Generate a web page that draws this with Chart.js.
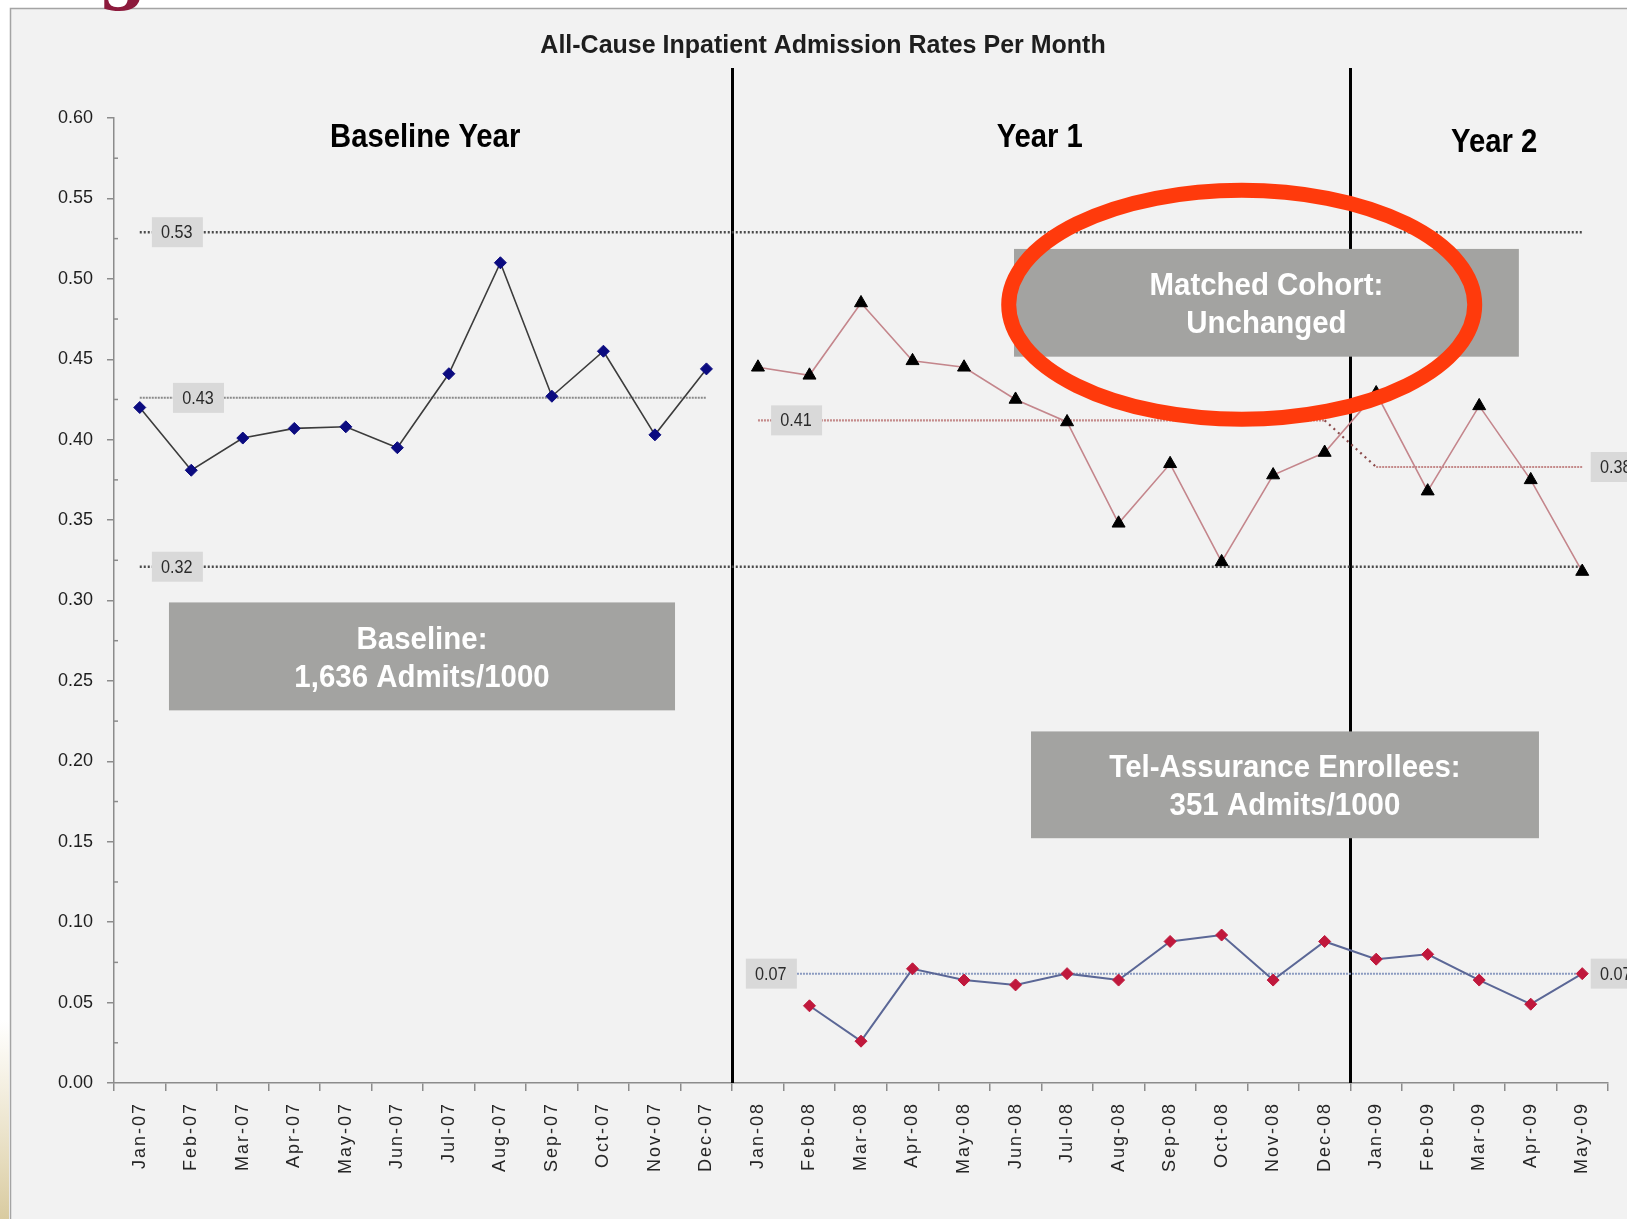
<!DOCTYPE html>
<html lang="en">
<head>
<meta charset="utf-8">
<title>All-Cause Inpatient Admission Rates Per Month</title>
<script src="https://cdn.jsdelivr.net/npm/chart.js@4.4.1/dist/chart.umd.min.js"></script>
<style>
  html, body { margin: 0; padding: 0; background: #fff; }
  canvas { display: block; }
</style>
</head>
<body>
<canvas id="grafico" width="1627" height="1219"></canvas>
<script>
const months = [
  'Jan-07', 'Feb-07', 'Mar-07', 'Apr-07', 'May-07', 'Jun-07', 'Jul-07', 'Aug-07', 'Sep-07', 'Oct-07', 'Nov-07', 'Dec-07',
  'Jan-08', 'Feb-08', 'Mar-08', 'Apr-08', 'May-08', 'Jun-08', 'Jul-08', 'Aug-08', 'Sep-08', 'Oct-08', 'Nov-08', 'Dec-08',
  'Jan-09', 'Feb-09', 'Mar-09', 'Apr-09', 'May-09'
];

// baseline year, Jan-07 .. Dec-07
const baselineRates = [0.420, 0.381, 0.401, 0.407, 0.408, 0.395, 0.441, 0.510, 0.427, 0.455, 0.403, 0.444];
// matched cohort, Jan-08 .. May-09
const cohortRates = [0.445, 0.440, 0.485, 0.449, 0.445, 0.425, 0.411, 0.348, 0.385, 0.324, 0.378, 0.392,
  0.429, 0.368, 0.421, 0.375, 0.318];
// Tel-Assurance enrollees, Feb-08 .. May-09
const enrolleeRates = [0.048, 0.026, 0.071, 0.064, 0.061, 0.068, 0.064, 0.088, 0.092, 0.064, 0.088,
  0.077, 0.080, 0.064, 0.049, 0.068];

const upperLimit = 0.529;
const lowerLimit = 0.321;
const baselineMean = 0.426;
const cohortMeanY1 = 0.412;
const cohortMeanY2 = 0.383;
const enrolleeMean = 0.068;

// little grey value tags on the reference lines (x in category units)
const meanTags = [
  { value: upperLimit, at: 0.72 },
  { value: baselineMean, at: 1.13 },
  { value: lowerLimit, at: 0.72 },
  { value: cohortMeanY1, at: 12.74 },
  { value: cohortMeanY2, at: 28.65 },
  { value: enrolleeMean, at: 12.25 },
  { value: enrolleeMean, at: 28.65 }
];

const sections = [
  { text: 'Baseline Year', at: 5.54, y: 0.5894 },
  { text: 'Year 1', at: 17.47, y: 0.5894 },
  { text: 'Year 2', at: 26.29, y: 0.5863 }
];

const notes = [
  { lines: ['Baseline:', '1,636 Admits/1000'], x0: 0.567, x1: 10.39, y0: 0.2988, y1: 0.2317 },
  { lines: ['Matched Cohort:', 'Unchanged'], x0: 16.97, x1: 26.77, y0: 0.5186, y1: 0.4516 },
  { lines: ['Tel-Assurance Enrollees:', '351 Admits/1000'], x0: 17.30, x1: 27.16, y0: 0.2186, y1: 0.1522 }
];

const FONT = "'Liberation Sans', Arial, sans-serif";

function placeSeries(values, start) {
  return months.map((_, i) => (i >= start && i < start + values.length ? values[i - start] : null));
}

function flatLine(from, to, value) {
  return months.map((_, i) => (i >= from && i <= to ? value : null));
}

function narrowText(ctx, text, x, y, squeeze) {
  ctx.save();
  ctx.translate(x, y);
  ctx.scale(squeeze, 1);
  ctx.fillText(text, 0, 0);
  ctx.restore();
}

const decorations = {
  id: 'decorations',
  beforeDraw(chart) {
    const ctx = chart.ctx;
    const w = chart.width, h = chart.height;

    // month labels are set with a bit of letter spacing
    const sx = chart.scales.x;
    if (!sx._spaced) {
      const base = sx.drawLabels;
      sx.drawLabels = function (area) {
        this.ctx.save();
        this.ctx.letterSpacing = '2px';
        base.call(this, area);
        this.ctx.restore();
      };
      sx._spaced = true;
    }

    ctx.save();
    ctx.fillStyle = '#ffffff';
    ctx.fillRect(0, 0, w, h);

    const strip = ctx.createLinearGradient(0, 1020, 0, h);
    strip.addColorStop(0, 'rgba(224,210,168,0)');
    strip.addColorStop(1, '#d9cba0');
    ctx.fillStyle = strip;
    ctx.fillRect(0, 1020, 9, h - 1020);

    ctx.fillStyle = '#f2f2f2';
    ctx.fillRect(10, 8, w - 10, h - 8);
    ctx.strokeStyle = '#a4a4a4';
    ctx.lineWidth = 1.5;
    ctx.beginPath();
    ctx.moveTo(10.5, h);
    ctx.lineTo(10.5, 8.5);
    ctx.lineTo(w, 8.5);
    ctx.stroke();

    ctx.fillStyle = '#8c1a3c';
    ctx.font = "bold 70px 'DejaVu Serif', serif";
    ctx.textBaseline = 'alphabetic';
    ctx.textAlign = 'left';
    ctx.fillText('g', 98, -4);

    ctx.fillStyle = '#1e1e1e';
    ctx.font = 'bold 25px ' + FONT;
    ctx.textAlign = 'center';
    ctx.fillText('All-Cause Inpatient Admission Rates Per Month', 823, 53);
    ctx.restore();
  },
  beforeDatasetsDraw(chart) {
    const ctx = chart.ctx;
    const x = chart.scales.x;
    const area = chart.chartArea;
    ctx.save();
    ctx.strokeStyle = '#000';
    ctx.lineWidth = 3;
    [11.5, 23.5].forEach(v => {
      const px = Math.round(x.getPixelForValue(v)) + 0.5;
      ctx.beginPath();
      ctx.moveTo(px, 68);
      ctx.lineTo(px, area.bottom);
      ctx.stroke();
    });
    ctx.restore();
  },
  afterDatasetsDraw(chart) {
    const ctx = chart.ctx;
    const x = chart.scales.x, y = chart.scales.y;
    ctx.save();

    // minor ticks on the value axis
    ctx.strokeStyle = '#8c8c8c';
    ctx.lineWidth = 1.5;
    for (let v = 0.025; v < 0.6; v += 0.05) {
      const py = y.getPixelForValue(v);
      ctx.beginPath();
      ctx.moveTo(chart.chartArea.left, py);
      ctx.lineTo(chart.chartArea.left + 4, py);
      ctx.stroke();
    }

    // value tags
    ctx.font = '18px ' + FONT;
    ctx.textAlign = 'center';
    ctx.textBaseline = 'middle';
    meanTags.forEach(t => {
      const cx = x.getPixelForValue(t.at);
      const cy = y.getPixelForValue(t.value);
      ctx.fillStyle = '#d9d9d9';
      ctx.fillRect(cx - 25, cy - 15, 51, 30);
      ctx.fillStyle = '#2a2a2a';
      narrowText(ctx, t.value.toFixed(2), cx, cy + 1, 0.9);
    });

    // grey call-out boxes
    notes.forEach(n => {
      const left = x.getPixelForValue(n.x0), right = x.getPixelForValue(n.x1);
      const top = y.getPixelForValue(n.y0), bottom = y.getPixelForValue(n.y1);
      ctx.fillStyle = '#a3a3a1';
      ctx.fillRect(left, top, right - left, bottom - top);
      const cx = (left + right) / 2, cy = (top + bottom) / 2;
      ctx.fillStyle = '#ffffff';
      ctx.font = 'bold 32px ' + FONT;
      ctx.textBaseline = 'alphabetic';
      narrowText(ctx, n.lines[0], cx, cy - 19 + 11.5, 0.92);
      narrowText(ctx, n.lines[1], cx, cy + 19 + 11.5, 0.92);
    });

    // section headings
    ctx.fillStyle = '#000';
    ctx.font = 'bold 34px ' + FONT;
    ctx.textBaseline = 'alphabetic';
    sections.forEach(s => {
      narrowText(ctx, s.text, x.getPixelForValue(s.at), y.getPixelForValue(s.y) + 12, 0.86);
    });

    // red ring around the matched cohort note
    ctx.strokeStyle = '#ff3a0c';
    ctx.lineWidth = 15;
    ctx.beginPath();
    ctx.ellipse(x.getPixelForValue(21.39), y.getPixelForValue(0.4839), 233, 114.5, 0, 0, Math.PI * 2);
    ctx.stroke();
    ctx.restore();
  }
};

const refLine = (data, color, dash, width) => ({
  data,
  borderColor: color,
  borderWidth: width || 2,
  borderDash: dash,
  pointRadius: 0,
  fill: false
});

new Chart(document.getElementById('grafico'), {
  type: 'line',
  data: {
    labels: months,
    datasets: [
      {
        label: 'Baseline',
        data: placeSeries(baselineRates, 0),
        borderColor: '#3c3c3c',
        borderWidth: 1.6,
        pointStyle: 'rectRot',
        pointRadius: 6,
        pointBackgroundColor: '#0b0b80',
        pointBorderColor: '#0b0b80',
        pointBorderWidth: 1
      },
      {
        label: 'Matched Cohort',
        data: placeSeries(cohortRates, 12),
        borderColor: '#c4868c',
        borderWidth: 1.6,
        pointStyle: 'triangle',
        pointRadius: 7.5,
        pointBackgroundColor: '#000',
        pointBorderColor: '#000',
        pointBorderWidth: 1
      },
      {
        label: 'Tel-Assurance Enrollees',
        data: placeSeries(enrolleeRates, 13),
        borderColor: '#5b6796',
        borderWidth: 2,
        pointStyle: 'rectRot',
        pointRadius: 6,
        pointBackgroundColor: '#c0183c',
        pointBorderColor: '#c0183c',
        pointBorderWidth: 1
      },
      refLine(flatLine(0, 28, upperLimit), '#4a4a4a', [2, 2], 2.5),
      refLine(flatLine(0, 28, lowerLimit), '#4a4a4a', [2, 2], 2.5),
      refLine(flatLine(0, 11, baselineMean), '#8a8a8a', [2, 1]),
      {
        ...refLine(months.map((_, i) => (i < 12 ? null : i < 24 ? cohortMeanY1 : cohortMeanY2)), '#c48a8a', [2, 1], 2.2),
        segment: {
          borderColor: c => (c.p0DataIndex === 23 ? '#8a4a4a' : undefined),
          borderDash: c => (c.p0DataIndex === 23 ? [2, 4] : undefined)
        }
      },
      refLine(flatLine(12, 28, enrolleeMean), '#8a9ac0', [2, 1])
    ]
  },
  options: {
    responsive: false,
    animation: false,
    events: [],
    layout: { padding: { left: 0, top: 118, right: 19, bottom: 0 } },
    plugins: {
      legend: { display: false },
      tooltip: { enabled: false }
    },
    scales: {
      x: {
        offset: true,
        afterFit(scale) { scale.height = 136; },
        grid: { offset: true, drawOnChartArea: false, tickLength: 8, color: '#8c8c8c', lineWidth: 1.5 },
        border: { color: '#8c8c8c', width: 1.5 },
        ticks: {
          autoSkip: false,
          minRotation: 90,
          maxRotation: 90,
          padding: 11,
          color: '#262626',
          font: { family: FONT, size: 18 }
        }
      },
      y: {
        min: 0,
        max: 0.6,
        afterFit(scale) { scale.width = 114; },
        grid: { drawOnChartArea: false, tickLength: 7, color: '#8c8c8c', lineWidth: 1.5 },
        border: { color: '#8c8c8c', width: 1.5 },
        ticks: {
          stepSize: 0.05,
          padding: 14,
          color: '#1e1e1e',
          font: { family: FONT, size: 18 },
          callback: v => v.toFixed(2)
        }
      }
    }
  },
  plugins: [decorations]
});
</script>
</body>
</html>
